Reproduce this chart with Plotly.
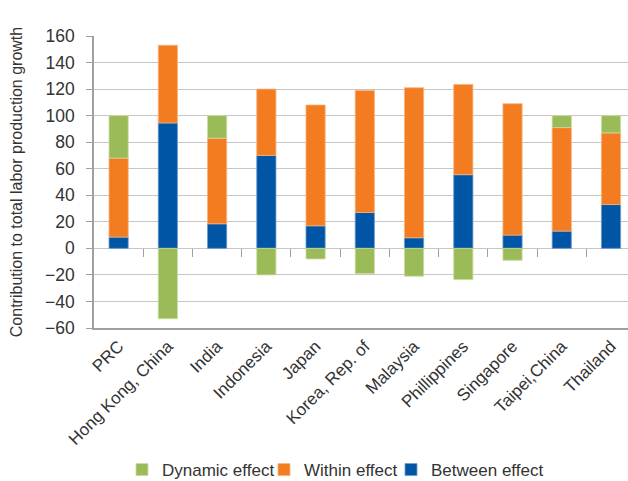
import plotly.graph_objects as go

categories = ["PRC", "Hong Kong, China", "India", "Indonesia", "Japan",
              "Korea, Rep. of", "Malaysia", "Phillippines", "Singapore",
              "Taipei,China", "Thailand"]
between_effect = [8.5, 94.5, 18.5, 70, 17, 27, 8, 55.5, 10, 13, 33]
within_effect = [59.5, 58.5, 64.5, 50, 91, 92, 113, 68, 99, 78, 54]
dynamic_effect = [32, -53, 17, -20, -8, -19, -21, -23.5, -9, 9, 13]

y_ticks = list(range(-60, 161, 20))

FONT = "Liberation Sans"
TEXT = "#333333"
GRID = "#C6C6C6"
AXIS = "#A0A0A0"
W, H = 628, 481

x_idx = list(range(len(categories)))
x_range = [-0.5, 10.345]
y_range = [-60, 160]

fig = go.Figure()
fig.add_trace(go.Bar(name="Between effect", x=x_idx, y=between_effect,
                     marker=dict(color="#0055A5", line=dict(color="#6E9BD2", width=0.8)),
                     width=0.39, legend="legend3"))
fig.add_trace(go.Bar(name="Within effect", x=x_idx, y=within_effect,
                     marker=dict(color="#F47C20", line=dict(color="#F9B27C", width=0.8)),
                     width=0.39, legend="legend2"))
fig.add_trace(go.Bar(name="Dynamic effect", x=x_idx, y=dynamic_effect,
                     marker=dict(color="#9BBB59", line=dict(color="#C9DDA2", width=0.8)),
                     width=0.39, legend="legend"))

# invisible trace that carries the tick marks along the zero line
fig.add_trace(go.Scatter(x=[None], y=[None], xaxis="x2", yaxis="y",
                         showlegend=False, hoverinfo="skip"))

zero_pos = (0 - y_range[0]) / (y_range[1] - y_range[0])


def legend_box(left_px):
    # one legend entry per box, laid out in a row under the chart
    return dict(
        orientation="h", xref="container", yref="container",
        x=left_px / W, xanchor="left", y=1 - 470 / H, yanchor="middle",
        font=dict(size=17, family=FONT, color=TEXT),
        itemwidth=30, bgcolor="rgba(0,0,0,0)",
    )


fig.update_layout(
    barmode="relative",
    width=W, height=H,
    margin=dict(l=94, r=0, t=36, b=153, autoexpand=False),
    paper_bgcolor="white", plot_bgcolor="white",
    font=dict(family=FONT, color=TEXT),
    xaxis=dict(
        range=x_range,
        tickmode="array", tickvals=x_idx, ticktext=categories,
        tickangle=-45, tickfont=dict(size=17, family=FONT, color=TEXT),
        showline=True, linecolor=AXIS, linewidth=1.5,
        showgrid=False, ticks="", zeroline=False,
    ),
    xaxis2=dict(
        overlaying="x", anchor="free", position=zero_pos,
        range=x_range,
        tickmode="array", tickvals=[i + 0.5 for i in x_idx[:-1]],
        ticks="outside", ticklen=8, tickcolor=AXIS, tickwidth=1.2,
        showticklabels=False, showline=False, showgrid=False, zeroline=False,
    ),
    yaxis=dict(
        range=y_range,
        tickmode="array", tickvals=y_ticks,
        tickfont=dict(size=17.5, family=FONT, color=TEXT),
        ticks="outside", ticklen=6, tickcolor=AXIS,
        ticklabelstandoff=8,
        showline=True, linecolor=AXIS, linewidth=1.5,
        showgrid=True, gridcolor=GRID, gridwidth=1.2,
        zeroline=False,
        title=dict(text="Contribution to total labor production growth",
                   font=dict(size=16, family=FONT, color=TEXT),
                   standoff=18),
    ),
    legend=legend_box(122),
    legend2=legend_box(264),
    legend3=legend_box(391),
    bargap=0.61,
)

fig.write_html("out.html")
